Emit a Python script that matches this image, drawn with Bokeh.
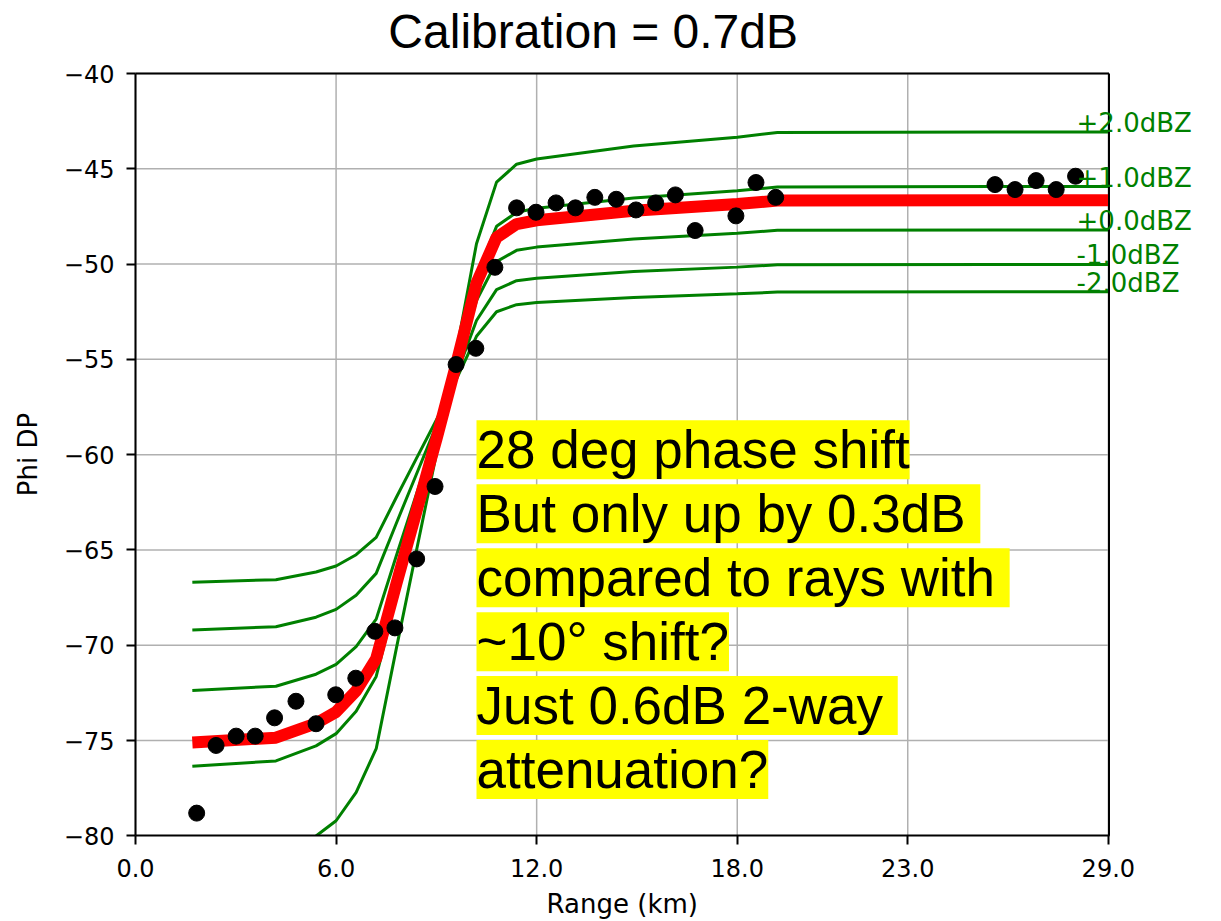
from bokeh.plotting import figure
from bokeh.models import Range1d, FixedTicker, Label
from bokeh.embed import file_html
from bokeh.resources import INLINE

# ---------------- data ----------------
model_range_km = [1.7, 4.2, 5.4, 6.0, 6.6, 7.2, 7.8, 8.4, 9.0, 9.6, 10.2, 10.8,
                  11.4, 12.0, 14.9, 18.0, 19.2, 25.7, 29.12]

phi_plus2 = [-81.36, -81.01, -80.01, -79.21, -77.72, -75.43, -70.19, -65.07, -59.96,
             -54.57, -48.93, -45.70, -44.76, -44.49, -43.81, -43.34, -43.10, -43.07, -43.07]
phi_plus1 = [-76.35, -76.07, -75.28, -74.64, -73.46, -71.64, -67.47, -63.41, -59.35,
             -55.07, -50.59, -48.02, -47.28, -47.07, -46.53, -46.15, -45.96, -45.93, -45.93]
phi_zero = [-72.37, -72.15, -71.52, -71.01, -70.07, -68.63, -65.32, -62.09, -58.87,
            -55.47, -51.91, -49.87, -49.28, -49.11, -48.68, -48.38, -48.23, -48.21, -48.21]
phi_minus1 = [-69.20, -69.03, -68.53, -68.12, -67.38, -66.23, -63.61, -61.04, -58.48,
              -55.79, -52.96, -51.34, -50.87, -50.74, -50.39, -50.16, -50.04, -50.02, -50.02]
phi_minus2 = [-66.70, -66.56, -66.16, -65.84, -65.25, -64.34, -62.25, -60.21, -58.18,
              -56.03, -53.79, -52.50, -52.13, -52.02, -51.75, -51.56, -51.47, -51.45, -51.45]
phi_fit = [-75.10, -74.85, -74.10, -73.50, -72.40, -70.70, -66.80, -63.00, -59.20,
           -55.20, -51.00, -48.60, -47.90, -47.70, -47.20, -46.85, -46.67, -46.65, -46.65]

model_labels = ["+2.0dBZ", "+1.0dBZ", "+0.0dBZ", "-1.0dBZ", "-2.0dBZ"]

obs_range_km = [1.83, 2.41, 3.01, 3.58, 4.16, 4.80, 5.40, 5.99, 6.59, 7.16, 7.76, 8.41,
                8.96, 9.59, 10.18, 10.75, 11.40, 11.98, 12.58, 13.16, 13.74, 14.38, 14.97,
                15.56, 16.15, 16.74, 17.96, 18.56, 19.15, 25.71, 26.31, 26.94, 27.54, 28.12]
obs_phi = [-78.81, -75.26, -74.77, -74.77, -73.81, -72.94, -74.12, -72.60, -71.73, -69.27,
           -69.09, -65.47, -61.67, -55.27, -54.42, -50.17, -47.05, -47.28, -46.79, -47.05,
           -46.50, -46.60, -47.16, -46.79, -46.37, -48.24, -47.47, -45.72, -46.50, -45.83,
           -46.09, -45.62, -46.09, -45.39]

x_min, x_max = 0.0, 29.12
y_min, y_max = -80.0, -40.0
x_tick_values = [0, 6, 12, 18, 23.1, 29.1]
x_tick_labels = ["0.0", "6.0", "12.0", "18.0", "23.0", "29.0"]
y_tick_values = [-80, -75, -70, -65, -60, -55, -50, -45, -40]
y_tick_labels = ["\u221280", "\u221275", "\u221270", "\u221265", "\u221260",
                 "\u221255", "\u221250", "\u221245", "\u221240"]

title_text = "Calibration = 0.7dB"
x_label = "Range (km)"
y_label = "Phi DP"
note_lines = ["28 deg phase shift", "But only up by 0.3dB ", "compared to rays with ",
              "~10\u00b0 shift?", "Just 0.6dB 2-way ", "attenuation?"]

# ---------------- layout ----------------
# The plot frame covers the whole canvas; both axes sit at fixed data locations
# so the title, x label and the dBZ labels past the right spine can be placed freely.
canvas_w, canvas_h = 1221, 921
axes_left_px, axes_right_px = 135, 1108.5    # where x_min / x_max sit on the canvas
axes_top_px, axes_bottom_px = 73, 835.3      # where y_max / y_min sit on the canvas
px_per_km = (axes_right_px - axes_left_px) / (x_max - x_min)
px_per_unit_y = (axes_bottom_px - axes_top_px) / (y_max - y_min)
view_x_start = x_min - axes_left_px / px_per_km
view_x_end = x_max + (canvas_w - axes_right_px) / px_per_km
view_y_top = y_max + axes_top_px / px_per_unit_y
view_y_bottom = y_min - (canvas_h - axes_bottom_px) / px_per_unit_y

p = figure(width=canvas_w, height=canvas_h, output_backend="svg", toolbar_location=None,
           x_range=Range1d(view_x_start, view_x_end),
           y_range=Range1d(view_y_bottom, view_y_top),
           min_border_left=0, min_border_right=0, min_border_top=0, min_border_bottom=0)

p.background_fill_color = "white"
p.border_fill_color = "white"
p.outline_line_color = None
p.grid.visible = False

# grid (drawn manually so it stops at the spines)
grid_color = "#b0b0b0"
p.segment(x0=x_tick_values, y0=[y_min] * len(x_tick_values),
          x1=x_tick_values, y1=[y_max] * len(x_tick_values),
          line_color=grid_color, line_width=1.5)
p.segment(x0=[x_min] * len(y_tick_values), y0=y_tick_values,
          x1=[x_max] * len(y_tick_values), y1=y_tick_values,
          line_color=grid_color, line_width=1.5)

# model lines
series = [phi_plus2, phi_plus1, phi_zero, phi_minus1, phi_minus2]
for vals in series:
    p.line(model_range_km, vals, line_color="#008000", line_width=3)

p.line(model_range_km, phi_fit, line_color="#ff0000", line_width=12)

p.scatter(obs_range_km, obs_phi, size=16, fill_color="black", line_color="black")

# white mask below the axes box (the +2 dBZ curve runs below -80)
p.quad(left=[x_min], right=[x_max], top=[y_min], bottom=[view_y_bottom],
       fill_color="white", line_color=None)

# top and right spines
p.segment(x0=[x_min], y0=[y_max], x1=[x_max], y1=[y_max], line_color="black", line_width=2)
p.segment(x0=[x_max], y0=[y_min], x1=[x_max], y1=[y_max], line_color="black", line_width=2)

for ax in (p.xaxis[0], p.yaxis[0]):
    ax.axis_line_color = "black"
    ax.axis_line_width = 2
    ax.major_tick_line_color = "black"
    ax.major_tick_line_width = 2
    ax.major_tick_out = 9
    ax.major_tick_in = 0
    ax.minor_tick_line_color = None
    ax.major_label_text_font = "DejaVu Sans"
    ax.major_label_text_font_size = "24px"
    ax.major_label_text_color = "black"
    ax.axis_label_text_font = "DejaVu Sans"
    ax.axis_label_text_font_size = "26px"
    ax.axis_label_text_font_style = "normal"
    ax.axis_label_text_color = "black"

p.xaxis.fixed_location = y_min
p.xaxis.bounds = (x_min, x_max)
p.xaxis.ticker = FixedTicker(ticks=x_tick_values)
p.xaxis.major_label_overrides = dict(zip(x_tick_values, x_tick_labels))
p.xaxis.major_label_standoff = 14

p.yaxis.fixed_location = x_min
p.yaxis.bounds = (y_min, y_max)
p.yaxis.ticker = FixedTicker(ticks=y_tick_values)
p.yaxis.major_label_overrides = dict(zip(y_tick_values, y_tick_labels))
p.yaxis.axis_label = y_label
p.yaxis.major_label_standoff = 12
p.yaxis.axis_label_standoff = 18

label_x = 28.15
for vals, txt in zip(series, model_labels):
    p.add_layout(Label(x=label_x, y=vals[-1], text=txt, text_font="DejaVu Sans",
                       text_font_size="26px", text_color="#008000",
                       text_baseline="alphabetic", text_align="left", y_offset=9))

note_x = 10.2
note_top = -58.2
note_step = 3.355
for i, line in enumerate(note_lines):
    p.add_layout(Label(x=note_x, y=note_top - i * note_step, text=line,
                       text_font="Liberation Sans", text_font_size="53px",
                       text_color="black", text_baseline="top", text_align="left",
                       background_fill_color="#ffff00", background_fill_alpha=1.0))

# title and x-axis label
p.add_layout(Label(x=13.69, y=y_max + 69 / px_per_unit_y, text=title_text,
                   text_font="Liberation Sans", text_font_size="48px",
                   text_color="black", text_baseline="top", text_align="center"))
p.add_layout(Label(x=(x_min + x_max) / 2, y=y_min - 53 / px_per_unit_y, text=x_label,
                   text_font="DejaVu Sans", text_font_size="26px",
                   text_color="black", text_baseline="top", text_align="center"))

open("out.html", "w").write(file_html(p, INLINE))
